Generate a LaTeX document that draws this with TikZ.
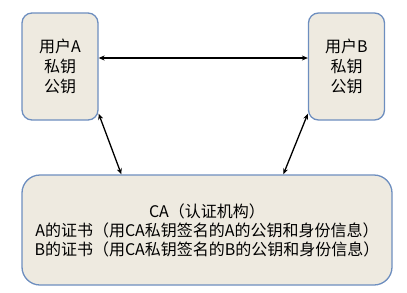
\documentclass[tikz,border=0pt]{standalone}
\usepackage{fontspec}
\setmainfont{Noto Sans CJK SC}
\usetikzlibrary{arrows.meta}
\definecolor{boxfill}{HTML}{EEEAE0}
\definecolor{boxline}{HTML}{6D8EBF}
\begin{document}
\begin{tikzpicture}[x=1pt, y=-1pt,
    every node/.style={draw=boxline, line width=1.3pt, fill=boxfill, align=center, inner sep=0pt, font=\fontsize{16}{20}\selectfont},
    userbox/.style={rounded corners=10pt, minimum width=76pt, minimum height=107pt},
    cabox/.style={rounded corners=18pt, minimum width=370pt, minimum height=110pt, font=\fontsize{16}{19}\selectfont},
    link/.style={{Stealth[length=6pt,width=5pt]}-{Stealth[length=6pt,width=5pt]}, line width=1.3pt}]
    \useasboundingbox (0,0) rectangle (407,292);
    \node[userbox] (userA) at (60,66.5) {用户A\\私钥\\公钥};
    \node[userbox] (userB) at (346.5,66.5) {用户B\\私钥\\公钥};
    \node[cabox] (ca) at (207,230) {CA（认证机构）\\A的证书（用CA私钥签名的A的公钥和身份信息）\\B的证书（用CA私钥签名的B的公钥和身份信息）};
        \draw[link] ([yshift=8.5pt]userA.east) -- ([yshift=8.5pt]userB.west);
        \draw[link] ([yshift=7pt]userA.south east) -- ([xshift=100pt]ca.north west);
        \draw[link] ([yshift=7pt]userB.south west) -- ([xshift=262pt]ca.north west);
\end{tikzpicture}
\end{document}
